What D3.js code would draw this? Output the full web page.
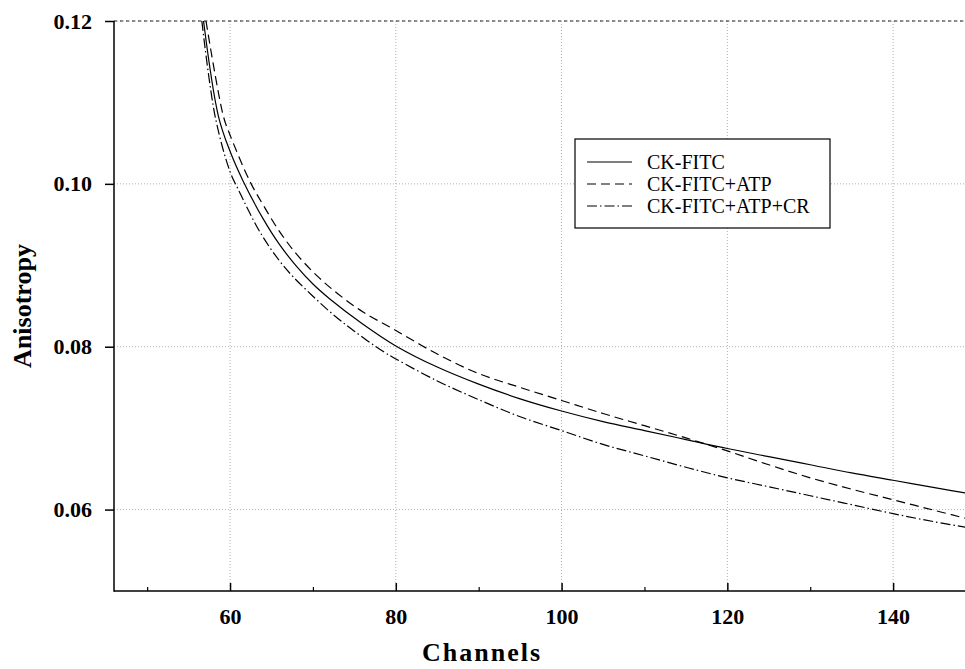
<!DOCTYPE html>
<html>
<head>
<meta charset="utf-8">
<script src="https://cdn.jsdelivr.net/npm/d3@7"></script>
<style>
  html, body { margin: 0; padding: 0; background: #fff; }
  svg { display: block; }
</style>
</head>
<body>
<svg id="chart" width="965" height="669"></svg>
<script>
// ---- data ----
const seriesNames = ["CK-FITC", "CK-FITC+ATP", "CK-FITC+ATP+CR"];

const xSolid = [56.8, 58.6, 60, 61.6, 64, 66, 68, 70, 72, 76, 80, 85, 90, 95, 100, 105, 110, 115, 120, 125, 130, 135, 140, 145, 150];
const ySolid = [0.1200, 0.1083, 0.1040, 0.1003, 0.0957, 0.0925, 0.0899, 0.0877, 0.0859, 0.0828, 0.0801, 0.0775, 0.0754, 0.0736, 0.0721, 0.0708, 0.0697, 0.0686, 0.0675, 0.0665, 0.0655, 0.0645, 0.0636, 0.0627, 0.0618];

const xDashed = [57.1, 59.2, 60, 62.4, 64, 66, 68, 70.5, 73, 76, 80, 85, 90, 95, 100, 105, 110, 115, 120, 125, 130, 135, 140, 145, 150];
const yDashed = [0.1200, 0.1083, 0.1060, 0.1003, 0.0974, 0.0941, 0.0914, 0.0887, 0.0865, 0.0843, 0.0820, 0.0791, 0.0767, 0.0750, 0.0734, 0.0718, 0.0703, 0.0688, 0.0672, 0.0655, 0.0639, 0.0625, 0.0612, 0.0599, 0.0586];

const xDashDot = [56.6, 58.2, 60, 61, 63.6, 66, 67.6, 70, 72.5, 75, 78.5, 80, 85, 90, 95, 100, 105, 110, 115, 120, 125, 130, 135, 140, 145, 150];
const yDashDot = [0.1200, 0.1083, 0.1015, 0.0993, 0.0941, 0.0905, 0.0886, 0.0862, 0.0839, 0.0819, 0.0794, 0.0785, 0.0758, 0.0735, 0.0714, 0.0697, 0.0680, 0.0666, 0.0652, 0.0639, 0.0628, 0.0617, 0.0606, 0.0595, 0.0585, 0.0576];

const xMajorTicks = [60, 80, 100, 120, 140];
const xMinorTicks = [50, 70, 90, 110, 130, 150];
const yTicks = [0.06, 0.08, 0.10, 0.12];
const yTickLabels = ["0.06", "0.08", "0.10", "0.12"];

// ---- layout ----
const svg = d3.select("#chart");
const pL = 114, pR = 976, pT = 21, pB = 591;
const x = d3.scaleLinear().domain([46, 150]).range([pL, pR]);
const y = d3.scaleLinear().domain([0.05, 0.12]).range([pB, pT]);

const serif = "'Liberation Serif', 'Times New Roman', Times, serif";

// clip
svg.append("defs").append("clipPath").attr("id", "plotclip")
  .append("rect").attr("x", pL).attr("y", pT).attr("width", pR - pL).attr("height", pB - pT);

// grid
const grid = svg.append("g");
grid.selectAll("line.vg").data(xMajorTicks).join("line")
  .attr("x1", d => x(d)).attr("x2", d => x(d))
  .attr("y1", pT).attr("y2", pB)
  .attr("stroke", "#b0b0b0").attr("stroke-width", 1).attr("stroke-dasharray", "1,2");
grid.selectAll("line.hg").data(yTicks).join("line")
  .attr("x1", pL).attr("x2", pR)
  .attr("y1", d => y(d)).attr("y2", d => y(d))
  .attr("stroke", "#b0b0b0").attr("stroke-width", 1).attr("stroke-dasharray", "1,2");

// top dashed frame line
svg.append("line")
  .attr("x1", pL).attr("x2", pR).attr("y1", y(0.12)).attr("y2", y(0.12))
  .attr("stroke", "#222").attr("stroke-width", 1).attr("stroke-dasharray", "3,3");

// curves
const line = d3.line().x(d => x(d[0])).y(d => y(d[1])).curve(d3.curveCatmullRom.alpha(0.5));
const series = [
  { name: seriesNames[0], xs: xSolid, ys: ySolid, dash: null },
  { name: seriesNames[1], xs: xDashed, ys: yDashed, dash: "9,5" },
  { name: seriesNames[2], xs: xDashDot, ys: yDashDot, dash: "10,3,1.5,3" }
];
const curves = svg.append("g").attr("clip-path", "url(#plotclip)");
series.forEach(s => {
  curves.append("path")
    .datum(s.xs.map((v, i) => [v, s.ys[i]]))
    .attr("d", line)
    .attr("fill", "none")
    .attr("stroke", "#000")
    .attr("stroke-width", 1.2)
    .attr("stroke-dasharray", s.dash);
});

// axes
const xAxisMajor = d3.axisBottom(x).tickValues(xMajorTicks).tickSize(-8).tickFormat(d3.format("d")).tickPadding(17);
const gx = svg.append("g").attr("transform", `translate(0,${pB})`).call(xAxisMajor);
gx.select(".domain").remove();
gx.selectAll(".tick line").attr("stroke", "#000").attr("stroke-width", 1.5);
gx.selectAll(".tick text")
  .attr("font-family", serif).attr("font-weight", "bold").attr("font-size", 22).attr("fill", "#000")
  .attr("dy", "0.71em");

const xAxisMinor = d3.axisBottom(x).tickValues(xMinorTicks).tickSize(-4).tickFormat("");
const gxm = svg.append("g").attr("transform", `translate(0,${pB})`).call(xAxisMinor);
gxm.select(".domain").remove();
gxm.selectAll(".tick line").attr("stroke", "#000").attr("stroke-width", 1.2);

const yAxis = d3.axisLeft(y).tickValues(yTicks).tickSize(9).tickPadding(13)
  .tickFormat((d, i) => yTickLabels[i]);
const gy = svg.append("g").attr("transform", `translate(${pL},0)`).call(yAxis);
gy.select(".domain").remove();
gy.selectAll(".tick line").attr("stroke", "#000").attr("stroke-width", 1.5);
gy.selectAll(".tick text")
  .attr("font-family", serif).attr("font-weight", "bold").attr("font-size", 22).attr("fill", "#000");

// axis lines
svg.append("line").attr("x1", pL).attr("x2", pL).attr("y1", pT).attr("y2", pB + 0.75)
  .attr("stroke", "#000").attr("stroke-width", 1.5);
svg.append("line").attr("x1", pL).attr("x2", pR).attr("y1", pB).attr("y2", pB)
  .attr("stroke", "#000").attr("stroke-width", 1.5);

// axis titles
svg.append("text")
  .attr("x", 482).attr("y", 661)
  .attr("text-anchor", "middle")
  .attr("font-family", serif).attr("font-weight", "bold").attr("font-size", 26)
  .attr("letter-spacing", 2)
  .text("Channels");
svg.append("text")
  .attr("transform", `translate(31,${(pT + pB) / 2}) rotate(-90)`)
  .attr("text-anchor", "middle")
  .attr("font-family", serif).attr("font-weight", "bold").attr("font-size", 26)
  .text("Anisotropy");

// legend
const lg = svg.append("g");
lg.append("rect").attr("x", 575).attr("y", 139).attr("width", 255).attr("height", 89)
  .attr("fill", "#fff").attr("stroke", "#000").attr("stroke-width", 1.2);
const rowY = [162, 184, 206];
series.forEach((s, i) => {
  lg.append("line").attr("x1", 587).attr("x2", 632).attr("y1", rowY[i]).attr("y2", rowY[i])
    .attr("stroke", "#000").attr("stroke-width", 1.2).attr("stroke-dasharray", s.dash);
  lg.append("text").attr("x", 647).attr("y", rowY[i]).attr("dy", "0.35em")
    .attr("font-family", serif).attr("font-size", 20).attr("fill", "#000")
    .text(s.name);
});
</script>
</body>
</html>
